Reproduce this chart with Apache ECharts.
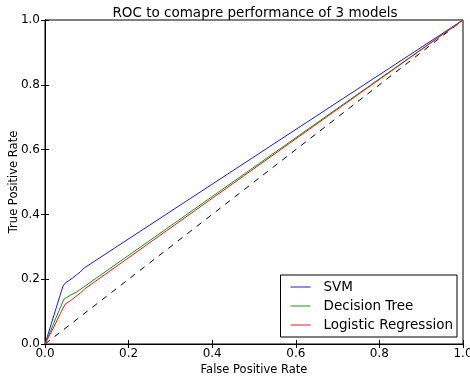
<!DOCTYPE html>
<html>
<head>
<meta charset="utf-8">
<script src="https://cdn.jsdelivr.net/npm/echarts@6/dist/echarts.min.js"></script>
<style>
  html, body { margin: 0; padding: 0; background: #fff; }
  #main { width: 470px; height: 379px; }
</style>
</head>
<body>
<div id="main"></div>
<script>
// ROC curves: [fpr, tpr]
const svmRoc = [[0, 0], [0.043, 0.179], [0.05, 0.19], [0.06, 0.198], [0.068, 0.206], [0.075, 0.213], [0.084, 0.222], [0.093, 0.234], [1, 1]];
const treeRoc = [[0, 0], [0.045, 0.138], [0.06, 0.15], [0.075, 0.16], [1, 1]];
const logregRoc = [[0, 0], [0.022, 0.055], [0.037, 0.095], [0.048, 0.123], [0.06, 0.133], [0.072, 0.145], [0.085, 0.158], [0.095, 0.17], [1, 1]];
const chanceLine = [[0, 0], [1, 1]];
const modelNames = ['SVM', 'Decision Tree', 'Logistic Regression'];
const modelColors = ['#1a1ae6', '#119911', '#f21a1a'];

const font = 'DejaVu Sans';
const chart = echarts.init(document.getElementById('main'), null, { renderer: 'canvas' });

const axisBase = {
  type: 'value',
  min: 0,
  max: 1,
  interval: 0.2,
  axisLine: { show: true, lineStyle: { color: '#000', width: 1 } },
  axisTick: { show: true, inside: true, length: 4, lineStyle: { color: '#000' } },
  splitLine: { show: false }
};

const option = {
  animation: false,
  backgroundColor: '#fff',
  color: modelColors,
  title: {
    text: 'ROC to comapre performance of 3 models',
    left: 250,
    textAlign: 'center',
    top: 1,
    textStyle: { fontFamily: font, fontSize: 13.5, fontWeight: 'normal', color: '#000' }
  },
  grid: {
    left: 45, right: 7, top: 20, bottom: 35,
    outerBoundsMode: 'none', containLabel: false,
    show: true, borderColor: '#000', borderWidth: 1
  },
  legend: {
    data: modelNames.map((n, i) => ({ name: n, itemStyle: { color: modelColors[i], borderWidth: 0 } })),
    orient: 'vertical',
    right: 13,
    bottom: 42,
    icon: 'rect',
    itemWidth: 20,
    itemHeight: 1,
    itemGap: 5,
    padding: [5, 4, 5, 10],
    borderColor: '#000',
    borderWidth: 1,
    itemStyle: { borderWidth: 0 },
    textStyle: { fontFamily: font, fontSize: 13.5, color: '#000', padding: [0, 0, 0, 8] }
  },
  xAxis: [
    Object.assign({}, axisBase, {
      position: 'bottom',
      name: 'False Positive Rate',
      nameLocation: 'middle',
      nameGap: 20,
      nameMoveOverlap: false,
      nameTextStyle: { fontFamily: font, fontSize: 11.5, color: '#000' },
      axisLabel: { fontFamily: font, fontSize: 12, color: '#000', margin: 4, formatter: v => v.toFixed(1) }
    }),
    Object.assign({}, axisBase, { position: 'top', axisLabel: { show: false } })
  ],
  yAxis: [
    Object.assign({}, axisBase, {
      position: 'left',
      name: 'True Positive Rate',
      nameLocation: 'middle',
      nameGap: 25,
      nameMoveOverlap: false,
      nameTextStyle: { fontFamily: font, fontSize: 11.5, color: '#000' },
      axisLabel: { fontFamily: font, fontSize: 12, color: '#000', margin: 5, formatter: v => v.toFixed(1) }
    }),
    Object.assign({}, axisBase, { position: 'right', axisLabel: { show: false } })
  ],
  series: [
    {
      name: 'SVM', type: 'line', data: svmRoc, symbol: 'none',
      lineStyle: { color: modelColors[0], width: 1 }, itemStyle: { color: modelColors[0] }, z: 3
    },
    {
      name: 'Decision Tree', type: 'line', data: treeRoc, symbol: 'none',
      lineStyle: { color: modelColors[1], width: 1 }, itemStyle: { color: modelColors[1] }, z: 3
    },
    {
      name: 'Logistic Regression', type: 'line', data: logregRoc, symbol: 'none',
      lineStyle: { color: modelColors[2], width: 1 }, itemStyle: { color: modelColors[2] }, z: 3
    },
    {
      name: 'chance', type: 'line', data: chanceLine, symbol: 'none',
      lineStyle: { color: '#000', width: 1, type: [6, 6] }, z: 2
    }
  ]
};

chart.setOption(option);
</script>
</body>
</html>
